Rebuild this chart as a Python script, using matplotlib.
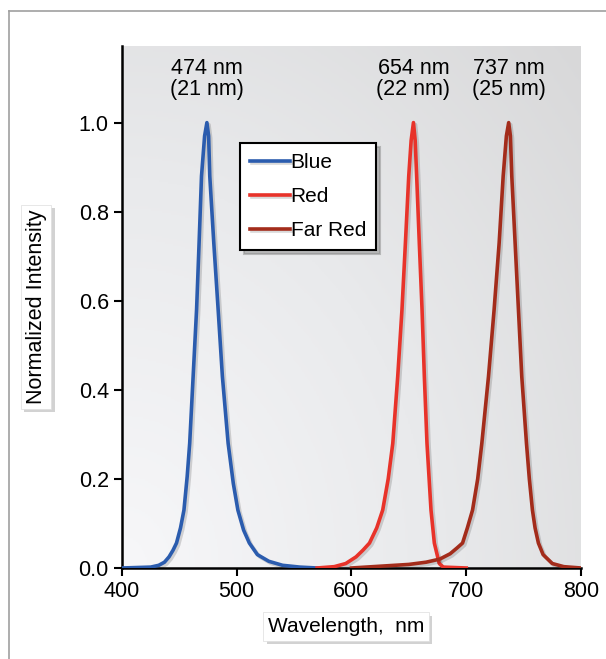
import matplotlib
matplotlib.use("Agg")
import matplotlib.pyplot as plt
import matplotlib.patheffects as pe
import numpy as np
from matplotlib.colors import LinearSegmentedColormap
from matplotlib.lines import Line2D

plt.rcParams["font.family"] = ["Liberation Sans", "DejaVu Sans"]

# Spectra (wavelength in nm, normalized intensity)
blue_wl = [400, 425, 432, 437, 441, 444.5, 447.5, 451, 454, 456.8, 459, 462, 465, 467.2, 469.3,
           472, 474, 475.5, 476.5, 480, 483.8, 487.5, 492.5, 497, 501, 506, 511, 518, 528, 540, 555, 570]
blue_int = [0.0, 0.002, 0.006, 0.013, 0.025, 0.04, 0.056, 0.09, 0.13, 0.205, 0.28, 0.43, 0.58, 0.73, 0.88,
            0.97, 1.0, 0.97, 0.88, 0.73, 0.58, 0.43, 0.28, 0.19, 0.13, 0.085, 0.056, 0.03, 0.015, 0.006, 0.002, 0.0]

red_wl = [570, 585, 595, 604, 610, 615.7, 622, 627.2, 632, 636, 640.3, 644, 647, 649.9, 652, 654,
          655.5, 656.8, 659.1, 661.5, 663.5, 665.8, 669.3, 672.2, 676.5, 680, 700]
red_int = [0.0, 0.003, 0.01, 0.025, 0.04, 0.056, 0.09, 0.13, 0.2, 0.28, 0.43, 0.58, 0.73, 0.88, 0.96, 1.0,
           0.96, 0.88, 0.73, 0.58, 0.43, 0.28, 0.13, 0.056, 0.01, 0.002, 0.0]

farred_wl = [600, 625, 650, 665, 677, 686, 692, 696.8, 701, 705.5, 710, 713.6, 719.4, 724.3, 728.7, 732.2,
             735, 737, 738.5, 739.7, 742.6, 745.5, 748.4, 752.5, 755, 757.7, 760, 762.9, 767, 775, 785, 800]
farred_int = [0.0, 0.004, 0.008, 0.013, 0.02, 0.032, 0.045, 0.056, 0.09, 0.13, 0.2, 0.28, 0.43, 0.58, 0.73, 0.88,
              0.97, 1.0, 0.97, 0.88, 0.73, 0.58, 0.43, 0.28, 0.2, 0.13, 0.09, 0.056, 0.03, 0.01, 0.003, 0.0]

peak_labels = ["474 nm\n(21 nm)", "654 nm\n(22 nm)", "737 nm\n(25 nm)"]
peak_pos = [474, 654, 737]

fig = plt.figure(figsize=(6.06, 6.59), dpi=100)
ax = fig.add_axes([0.2013, 0.1381, 0.7574, 0.7921])

# figure frame (top and left edges only)
fig.add_artist(Line2D([9 / 606, 1], [1 - 11 / 659] * 2, color="#a0a0a0", lw=1.2))
fig.add_artist(Line2D([9 / 606] * 2, [0, 1 - 11 / 659], color="#a0a0a0", lw=1.2))

ymax = 1.172
# radial grey background, light in lower left
gx, gy = np.meshgrid(np.linspace(0, 1, 300), np.linspace(0, 1, 300))
r = np.sqrt(gx ** 2 + (gy * 0.9) ** 2) / np.sqrt(1 + 0.81)
bg_cmap = LinearSegmentedColormap.from_list("bg", ["#f7f7f9", "#e9eaec", "#d8d8d9"])
ax.imshow(r, origin="lower", extent=(400, 800, 0, ymax), aspect="auto", cmap=bg_cmap, zorder=0)

shadow = [pe.SimpleLineShadow(offset=(1.5, -1.5), alpha=0.15), pe.Normal()]
ax.plot(blue_wl, blue_int, color="#2b5cae", lw=2.6, label="Blue", path_effects=shadow, zorder=3)
ax.plot(red_wl, red_int, color="#e8332a", lw=2.6, label="Red", path_effects=shadow, zorder=3)
ax.plot(farred_wl, farred_int, color="#a32c1b", lw=2.6, label="Far Red", path_effects=shadow, zorder=3)

for x, txt in zip(peak_pos, peak_labels):
    ax.text(x, 1.098, txt, ha="center", va="center", fontsize=15.5, linespacing=1.05)

ax.set_xlim(400, 800)
ax.set_ylim(0, ymax)
ax.set_xticks([400, 500, 600, 700, 800])
ax.set_yticks([0.0, 0.2, 0.4, 0.6, 0.8, 1.0])
ax.set_yticklabels(["0.0", "0.2", "0.4", "0.6", "0.8", "1.0"])
ax.tick_params(labelsize=15.5, width=1.5, length=6, direction="out", color="black")
for side in ["top", "right"]:
    ax.spines[side].set_visible(False)
for side in ["left", "bottom"]:
    ax.spines[side].set_linewidth(1.8)

box = dict(boxstyle="square,pad=0.22", fc="white", ec="#dddddd", lw=0.5)
xl = ax.set_xlabel("Wavelength,  nm", fontsize=15, bbox=box)
ax.xaxis.set_label_coords(0.488, -0.094)
yl = ax.set_ylabel("Normalized Intensity", fontsize=15.5, labelpad=23, bbox=box)
for t in (xl, yl):
    t.get_bbox_patch().set_path_effects([pe.SimplePatchShadow(offset=(2.5, -2.5), alpha=0.25), pe.Normal()])

leg = ax.legend(loc="upper left", bbox_to_anchor=(0.257, 0.814), borderaxespad=0, fontsize=15,
                fancybox=False, edgecolor="black", framealpha=1, handlelength=1.9, handletextpad=0.05,
                labelspacing=0.72, borderpad=0.48,
                shadow={"color": "#888888", "alpha": 0.5, "ox": 3, "oy": -3})
leg.get_frame().set_linewidth(1.5)
leg.set_zorder(5)

fig.savefig("out.png", dpi=100)
